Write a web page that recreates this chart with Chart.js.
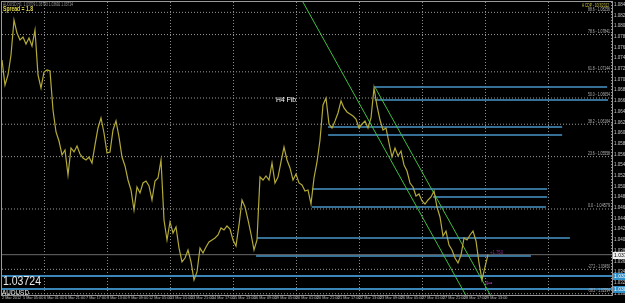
<!DOCTYPE html>
<html>
<head>
<meta charset="utf-8">
<script src="https://cdn.jsdelivr.net/npm/chart.js@4.4.1/dist/chart.umd.min.js"></script>
<style>
html, body { margin: 0; padding: 0; background: #000; }
#wrap { width: 625px; height: 303px; position: relative; }
</style>
</head>
<body>
<div id="wrap"><canvas id="mt4-chart"></canvas></div>
<script>
// AUDUSD closes, one value per bar (bar = 3px on the original chart)
const prices = [
  1.07365, 1.06898, 1.07085, 1.07459, 1.08113, 1.07870, 1.07739, 1.07795, 1.07665, 1.07777,
  1.07627, 1.07926, 1.07085, 1.06842, 1.07141, 1.07178, 1.07160, 1.06430, 1.06019, 1.05850,
  1.05589, 1.05682, 1.05215, 1.05720, 1.05645, 1.05757, 1.05607, 1.05533, 1.05495, 1.05551,
  1.05439, 1.05776, 1.06094, 1.06281, 1.06000, 1.05626, 1.05645, 1.06056, 1.06225, 1.05925,
  1.05551, 1.05383, 1.05121, 1.04934, 1.04560, 1.04990, 1.04878, 1.05065, 1.05102, 1.05009,
  1.04747, 1.05102, 1.05158, 1.05495, 1.04373, 1.03999, 1.04336, 1.04130, 1.04242, 1.03849,
  1.03588, 1.03662, 1.03812, 1.03588, 1.03251, 1.03401, 1.03849, 1.03756, 1.03868, 1.03962,
  1.03999, 1.04036, 1.04092, 1.04223, 1.04186, 1.04261, 1.04205, 1.03999, 1.03887, 1.04280,
  1.04747, 1.04616, 1.04373, 1.04111, 1.03812, 1.03999, 1.05177, 1.05121, 1.05196, 1.05121,
  1.05439, 1.05065, 1.05177, 1.05458, 1.05738, 1.05495, 1.05346, 1.05121, 1.05233, 1.05065,
  1.05028, 1.04915, 1.04934, 1.04672, 1.05158, 1.05458, 1.05869, 1.06524, 1.06655, 1.06168,
  1.06094, 1.06225, 1.06374, 1.06599, 1.06468, 1.06393, 1.06355, 1.06318, 1.06262, 1.06094,
  1.06168, 1.06225, 1.06094, 1.06281, 1.06842, 1.06505, 1.06243, 1.06056, 1.06094, 1.05813,
  1.05551, 1.05720, 1.05570, 1.05663, 1.05402, 1.05289, 1.05065, 1.04990, 1.04822, 1.04859,
  1.04728, 1.04672, 1.04747, 1.04803, 1.04915, 1.04616, 1.04429, 1.04074, 1.04167, 1.03905,
  1.03812, 1.03662, 1.03569, 1.03718, 1.04036, 1.03999, 1.04092, 1.04167, 1.03980, 1.03569,
  1.03251, 1.03494, 1.03724
];
const timeLabels = [
  "2 Mar 2012", "5 Mar 05:00", "6 Mar 01:00", "6 Mar 21:00", "7 Mar 17:00", "8 Mar 13:00",
  "9 Mar 09:00", "12 Mar 05:00", "13 Mar 01:00", "13 Mar 21:00", "14 Mar 17:00", "15 Mar 13:00",
  "16 Mar 09:00", "19 Mar 05:00", "20 Mar 01:00", "20 Mar 21:00", "21 Mar 17:00", "22 Mar 13:00",
  "23 Mar 09:00", "26 Mar 05:00", "27 Mar 01:00", "27 Mar 21:00", "28 Mar 17:00", "29 Mar 13:00"
];
const labelEvery = 7;      // bars between time labels
const barsVisible = 203.33; // bars across the window (chart shift included)

// fibonacci levels (H4 Fib)
const fibLevels = ["88.6", "78.6", "61.8", "50.0", "38.2", "23.6", "0.0", "-27.2", "-38.2"];
const fibPrices = [1.08256, 1.07841, 1.07144, 1.06654, 1.06164, 1.05558, 1.04579, 1.03450, 1.02994];

// blue support / resistance lines
const zonePrices = [1.06860, 1.06617, 1.06112, 1.05963, 1.04953, 1.04803, 1.04616, 1.04036, 1.03700];
const zoneFrom   = [124.0, 124.3, 108.7, 108.7, 103.3, 143.7, 103.3, 85.0, 84.7];
const zoneTo     = [201.7, 202.0, 186.7, 186.7, 181.7, 181.7, 181.3, 189.3, 176.3];
const levelPrices = [1.03326, 1.03083];

// down channel
const channelA = [[100.3, 1.08450], [160, 1.02420]];
const channelB = [[124.3, 1.06860], [170, 1.02240]];

const lastPrice = 1.03724;
const yMin = 1.0297, yMax = 1.0845;

const FONT = "'Liberation Sans', Arial, sans-serif";

const datasets = [];
datasets.push({
    data: prices.map((p, i) => ({x: i, y: p})),
    borderColor: "#b3aa38",
    borderWidth: 1.2,
    pointRadius: 0
});
[channelA, channelB].forEach(c => {
    datasets.push({
        data: c.map(pt => ({x: pt[0], y: pt[1]})),
        borderColor: "#3fbf3f",
        borderWidth: 1,
        pointRadius: 0
    });
});
zonePrices.forEach((p, i) => {
    datasets.push({
        data: [{x: zoneFrom[i], y: p}, {x: zoneTo[i], y: p}],
        borderColor: "#4a96c8",
        borderWidth: 1.5,
        pointRadius: 0
    });
});
levelPrices.forEach(p => {
    datasets.push({
        data: [{x: 0, y: p}, {x: barsVisible, y: p}],
        borderColor: "#3a86b8",
        borderWidth: 2,
        pointRadius: 0
    });
});
datasets.push({
    data: [{x: 0, y: lastPrice}, {x: barsVisible, y: lastPrice}],
    borderColor: "#6a6a6a",
    borderWidth: 1,
    pointRadius: 0
});
fibPrices.forEach(p => {
    datasets.push({
        data: [{x: 0, y: p}, {x: barsVisible, y: p}],
        borderColor: "#9c9c9c",
        borderWidth: 1,
        borderDash: [1, 2],
        pointRadius: 0
    });
});

// background, frame and the terminal texts
const mt4Extras = {
    id: "mt4Extras",
    beforeDraw(chart) {
        const ctx = chart.ctx;
        ctx.save();
        ctx.fillStyle = "#000";
        ctx.fillRect(0, 0, chart.width, chart.height);
        ctx.restore();
    },
    afterDraw(chart) {
        const {ctx, chartArea: a, scales: {y}} = chart;
        ctx.save();
        ctx.strokeStyle = "#9a9a9a";
        ctx.lineWidth = 1;
        ctx.strokeRect(a.left - 0.5, a.top - 0.5, a.right - a.left + 1, a.bottom - a.top + 1);

        // fib labels
        ctx.font = "5px " + FONT;
        ctx.fillStyle = "#b4b4b4";
        ctx.textAlign = "right";
        ctx.textBaseline = "bottom";
        fibPrices.forEach((p, i) => {
            ctx.fillText(fibLevels[i] + " - " + p.toFixed(5), a.right - 2, y.getPixelForValue(p) - 0.5, 22);
        });

        // price boxes on the axis
        const box = (p, bg, fg) => {
            const py = Math.round(y.getPixelForValue(p));
            ctx.fillStyle = bg;
            ctx.fillRect(a.right + 1, py - 3, 13, 7);
            ctx.fillStyle = fg;
            ctx.textAlign = "left";
            ctx.textBaseline = "middle";
            ctx.font = "5px " + FONT;
            ctx.fillText(p.toFixed(5), a.right + 2, py + 0.5);
        };
        box(lastPrice, "#f0f0f0", "#000");
        levelPrices.forEach(p => box(p, "#2f8fc8", "#fff"));

        ctx.textAlign = "left";
        ctx.textBaseline = "alphabetic";
        ctx.fillStyle = "#9a9a9a";
        ctx.font = "5px " + FONT;
        ctx.fillText("AUDUSD,H1  1.03709 1.03743 1.03692 1.03724", 3, 6, 70);
        ctx.fillStyle = "#e6dc4a";
        ctx.font = "bold 7px " + FONT;
        ctx.fillText("Spread = 1.8", 3, 11, 30);

        ctx.textAlign = "right";
        ctx.fillStyle = "#c8c040";
        ctx.font = "5px " + FONT;
        ctx.fillText("A CDP - 10/3/2012", 609, 7, 27);

        ctx.textAlign = "left";
        ctx.fillStyle = "#ffffff";
        ctx.font = "7px " + FONT;
        ctx.fillText("H4 Fib", 276, 102, 20);

        ctx.fillStyle = "#e8e8e8";
        ctx.font = "12px " + FONT;
        ctx.fillText(lastPrice.toFixed(5), 3, 285, 38);
        ctx.font = "8px " + FONT;
        ctx.fillText("AUDUSD", 2, 295, 27);

        ctx.fillStyle = "#8a2a8a";
        ctx.font = "5px " + FONT;
        ctx.fillText("+1.750", 490, 254, 13);
        ctx.fillStyle = "#c040c0";
        ctx.font = "9px 'DejaVu Sans'";
        ctx.fillText("\u21E6", 485, 286, 9);
        ctx.restore();
    }
};

new Chart(document.getElementById("mt4-chart"), {
    type: "line",
    data: {datasets: datasets},
    options: {
        responsive: true,
        maintainAspectRatio: false,
        animation: false,
        events: [],
        layout: {padding: {top: 2, left: 2, right: 0, bottom: 0}},
        plugins: {legend: {display: false}, tooltip: {enabled: false}},
        scales: {
            x: {
                type: "linear",
                min: 0,
                max: barsVisible,
                afterBuildTicks(s) {
                    const t = [];
                    for (let v = 0; v <= barsVisible; v += labelEvery) t.push({value: v});
                    s.ticks = t;
                },
                afterFit(s) {
                    s.height = 8;
                    s.paddingLeft = 0;
                    s.paddingRight = 0;
                },
                ticks: {
                    autoSkip: false,
                    maxRotation: 0,
                    align: "start",
                    padding: 1,
                    color: "#bdbdbd",
                    font: {size: 3.8, family: FONT},
                    callback: v => timeLabels[Math.round(v / labelEvery)] || ""
                },
                grid: {
                    drawTicks: false,
                    lineWidth: 1,
                    color: c => (c.index % 3 === 2 ? "#8c8c8c" : "rgba(0,0,0,0)")
                },
                border: {display: false, dash: [1, 2]}
            },
            y: {
                type: "linear",
                position: "right",
                min: yMin,
                max: yMax,
                afterFit(s) {
                    s.width = 13;
                    s.paddingTop = 0;
                    s.paddingBottom = 0;
                },
                ticks: {
                    stepSize: 0.002,
                    includeBounds: false,
                    autoSkip: false,
                    padding: 2,
                    color: "#c8c8c8",
                    font: {size: 4.5, family: FONT},
                    callback: v => v.toFixed(5)
                },
                grid: {display: false, drawTicks: false},
                border: {display: false}
            }
        }
    },
    plugins: [mt4Extras]
});
</script>
</body>
</html>
